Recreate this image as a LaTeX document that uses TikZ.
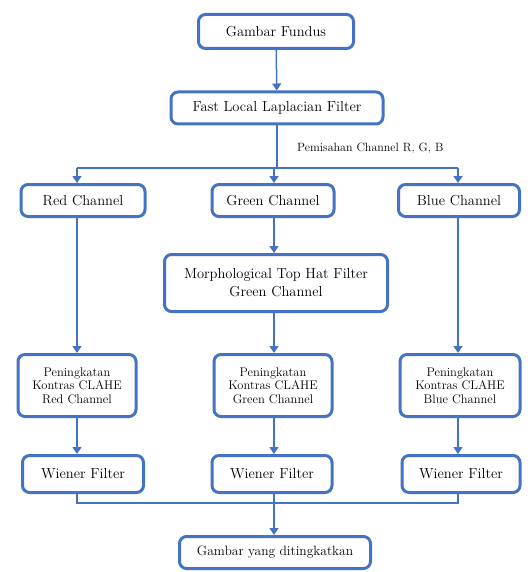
\documentclass[tikz,border=0pt]{standalone}
\usepackage{tikz}
\usetikzlibrary{shapes, arrows, arrows.meta}
\definecolor{boxblue}{RGB}{68,114,196}
\newcommand{\mainsize}{\fontsize{14.5}{18}\selectfont}
\newcommand{\clahesize}{\fontsize{12.5}{13.5}\selectfont}
\newcommand{\notesize}{\fontsize{12}{15}\selectfont}
\tikzstyle{block} = [rectangle, rounded corners=7pt, draw=boxblue, line width=3pt, align=center, inner sep=0pt, font=\mainsize]
\tikzstyle{link} = [draw=boxblue, line width=1.5pt]
\tikzstyle{arrow} = [draw=boxblue, line width=1.5pt, ->, >={Triangle[length=7pt, width=9pt]}]
\tikzstyle{note} = [inner sep=0pt, font=\notesize]

\begin{document}
\begin{tikzpicture}[x=1pt, y=-1pt, node distance=80pt]
	\useasboundingbox (0,0) rectangle (531,572);
	% blocks
	\node [block, minimum width=155pt, minimum height=34pt] (fundus) at (276,31.5) {Gambar Fundus};
	\node [block, below of=fundus, xshift=1pt, yshift=3.5pt, minimum width=212pt, minimum height=32pt] (fllf) {Fast Local Laplacian Filter};
	\node [block, below of=fllf, xshift=-4pt, yshift=-12.5pt, minimum width=122pt, minimum height=32pt] (green) {Green Channel};
	\node [block, left of=green, xshift=-110pt, minimum width=124pt, minimum height=32pt] (red) {Red Channel};
	\node [block, right of=green, xshift=106pt, minimum width=121pt, minimum height=32pt] (blue) {Blue Channel};
	\node [block, below of=green, xshift=3pt, yshift=-2.5pt, minimum width=223pt, minimum height=57pt] (morph) {Morphological Top Hat Filter\\Green Channel};
	\node [block, below of=morph, xshift=-3pt, yshift=-22.5pt, minimum width=118pt, minimum height=62pt, font=\clahesize] (claheG) {Peningkatan\\Kontras CLAHE\\Green Channel};
	\node [block, left of=claheG, xshift=-116pt, minimum width=118pt, minimum height=62pt, font=\clahesize] (claheR) {Peningkatan\\Kontras CLAHE\\Red Channel};
	\node [block, right of=claheG, xshift=107pt, minimum width=120pt, minimum height=62pt, font=\clahesize] (claheB) {Peningkatan\\Kontras CLAHE\\Blue Channel};
	\node [block, below of=claheG, xshift=-1pt, yshift=-8.5pt, minimum width=120pt, minimum height=37pt] (wienerG) {Wiener Filter};
	\node [block, left of=wienerG, xshift=-109pt, minimum width=121pt, minimum height=37pt] (wienerR) {Wiener Filter};
	\node [block, right of=wienerG, xshift=109pt, minimum width=118pt, minimum height=37pt] (wienerB) {Wiener Filter};
	\node [block, below of=wienerG, xshift=3pt, yshift=1.5pt, minimum width=191pt, minimum height=32pt, font=\fontsize{13.5}{17}\selectfont] (result) {Gambar yang ditingkatkan};
	\node [note, anchor=west] (split note) at (297,148.5) {Pemisahan Channel R, G, B};

	% columns and junctions
	\coordinate (colR) at (77,0);
	\coordinate (colG) at (274,0);
	\coordinate (colB) at (458,0);
	\coordinate (split) at (0,168);
	\coordinate (merge) at (0,503);

	% arrows
	\draw [arrow] (fundus) -- (fllf);
	\draw [link] (fllf.south) -- (fllf.south |- split);
	\draw [link] (split -| colR) -- (split -| colB);
	\draw [arrow] (split -| colR) -- (red.north -| colR);
	\draw [arrow] (split -| colG) -- (green.north -| colG);
	\draw [arrow] (split -| colB) -- (blue.north -| colB);
	\draw [arrow] (red.south -| colR) -- (claheR.north -| colR);
	\draw [arrow] (green.south -| colG) -- (morph.north -| colG);
	\draw [arrow] (morph.south -| colG) -- (claheG.north -| colG);
	\draw [arrow] (blue.south -| colB) -- (claheB.north -| colB);
	\draw [arrow] (claheR.south -| colR) -- (wienerR.north -| colR);
	\draw [arrow] (claheG.south -| colG) -- (wienerG.north -| colG);
	\draw [arrow] (claheB.south -| colB) -- (wienerB.north -| colB);
	\draw [link] (wienerR.south -| colR) -- (merge -| colR) -- (merge -| colB) -- (wienerB.south -| colB);
	\draw [link] (wienerG.south -| colG) -- (merge -| colG);
	\draw [arrow] (merge -| colG) -- (result.north -| colG);
\end{tikzpicture}
\end{document}
